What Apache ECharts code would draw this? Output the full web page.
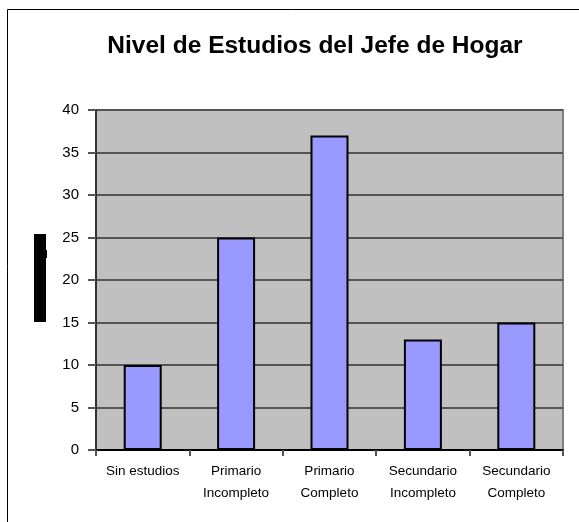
<!DOCTYPE html>
<html>
<head>
<meta charset="utf-8">
<script src="https://cdn.jsdelivr.net/npm/echarts@6/dist/echarts.min.js"></script>
<style>
    html, body { margin: 0; padding: 0; background: #fff; }
    #chart { width: 579px; height: 522px; }
</style>
</head>
<body>
<div id="chart"></div>
<script>
// categorias y valores
var categorias = ['Sin estudios', 'Primario\nIncompleto', 'Primario\nCompleto', 'Secundario\nIncompleto', 'Secundario\nCompleto'];
var valores = [10, 25, 37, 13, 15];
var titulo = 'Nivel de Estudios del Jefe de Hogar';

var myChart = echarts.init(document.getElementById('chart'));
myChart.setOption({
    animation: false,
    backgroundColor: '#fff',
    title: {
        text: titulo,
        left: 310,
        top: 29,
        textAlign: 'center',
        textStyle: {
            fontFamily: 'Liberation Sans',
            fontSize: 24.5,
            fontWeight: 'bold',
            color: '#000'
        }
    },
    graphic: [
        {   // marco exterior
            type: 'rect',
            shape: { x: 7.5, y: 9.5, width: 700, height: 700 },
            style: { fill: 'none', stroke: '#000', lineWidth: 1 }
        },
        {   // titulo del eje Y (bloque negro)
            type: 'rect',
            shape: { x: 34, y: 234, width: 12, height: 88 },
            style: { fill: '#000' }
        },
        {
            type: 'rect',
            shape: { x: 45, y: 250, width: 2, height: 8 },
            style: { fill: '#000' }
        }
    ],
    grid: {
        left: 96,
        top: 110,
        right: 16,
        bottom: 72,
        show: true,
        backgroundColor: '#C0C0C0',
        borderColor: '#808080',
        borderWidth: 2
    },
    xAxis: {
        type: 'category',
        data: categorias,
        axisLine: { lineStyle: { color: '#000', width: 2 } },
        axisTick: { show: true, length: 6, lineStyle: { color: '#555', width: 2 } },
        axisLabel: {
            color: '#000',
            fontFamily: 'Liberation Sans',
            fontSize: 13.5,
            lineHeight: 22,
            margin: 10,
            interval: 0
        }
    },
    yAxis: {
        type: 'value',
        min: 0,
        max: 40,
        interval: 5,
        axisLine: { show: true, lineStyle: { color: '#333', width: 2 } },
        axisTick: { show: true, length: 8, lineStyle: { color: '#555', width: 2 } },
        axisLabel: {
            color: '#000',
            fontFamily: 'Liberation Sans',
            fontSize: 15,
            margin: 17
        },
        splitLine: { show: true, lineStyle: { color: '#555', width: 2 } }
    },
    series: [{
        type: 'bar',
        data: valores,
        barWidth: 38,
        itemStyle: {
            color: '#9999FF',
            borderColor: '#000',
            borderWidth: 2
        }
    }]
});
</script>
</body>
</html>
